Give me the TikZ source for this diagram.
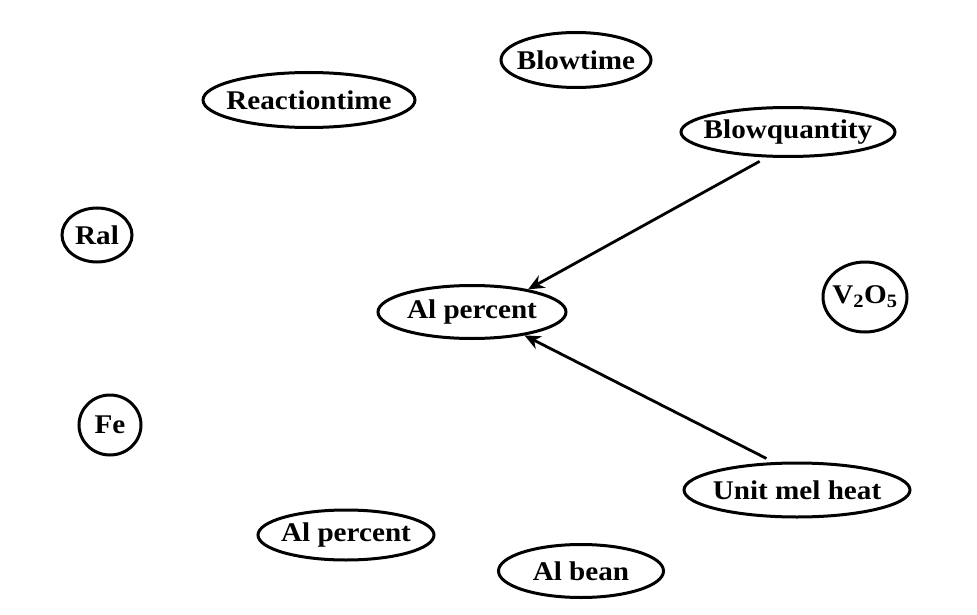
\documentclass[tikz,border=0pt]{standalone}
\usepackage{fontspec}
\setmainfont{Liberation Serif}
\newfontfamily\varfont[FakeStretch=1.08]{Liberation Serif}
\usetikzlibrary{shapes.geometric}
\usetikzlibrary{arrows.meta}
\usetikzlibrary{positioning}

\newcommand{\vlabel}[1]{\makebox[0pt]{#1}}

\tikzset{
  var/.style={ellipse, draw, line width=3pt, inner sep=0pt, font=\varfont\bfseries\fontsize{27}{29}\selectfont},
  dep/.style={line width=2.8pt, -{Stealth[length=16pt,width=14pt]}, shorten <=8pt}
}

\begin{document}
\begin{tikzpicture}[x=1pt,y=-1pt]
\useasboundingbox (0,0) rectangle (977,615);
\node[var, minimum width=150pt, minimum height=55pt] (blowtime) at (576,60) {\vlabel{Blowtime}};
\node[var, minimum width=212pt, minimum height=55pt] (reactiontime) at (309,100) {\vlabel{Reactiontime}};
\node[var, minimum width=214pt, minimum height=49pt] (blowquantity) at (788,132) {\vlabel{Blowquantity}};
\node[var, minimum width=70pt, minimum height=54pt] (ral) at (97,235) {\vlabel{Ral}};
\node[var, minimum width=84pt, minimum height=70pt] (vo) at (865,297) {\vlabel{V\textsubscript{2}O\textsubscript{5}}};
\node[var, minimum width=188pt, minimum height=53pt] (alpercent) at (472,312) {\vlabel{Al percent}};
\node[var, minimum width=62pt, minimum height=60pt] (fe) at (110,425) {\vlabel{Fe}};
\node[var, minimum width=226pt, minimum height=54pt] (unitmelheat) at (797,490) {\vlabel{Unit mel heat}};
\node[var, minimum width=176pt, minimum height=50pt] (alpercentb) at (346,535) {\vlabel{Al percent}};
\node[var, minimum width=165pt, minimum height=53pt] (albean) at (581,571) {\vlabel{Al bean}};

\draw[dep] (blowquantity.230) -- (alpercent.22);
\draw[dep] (unitmelheat.130) -- (alpercent.-24);
\end{tikzpicture}
\end{document}
